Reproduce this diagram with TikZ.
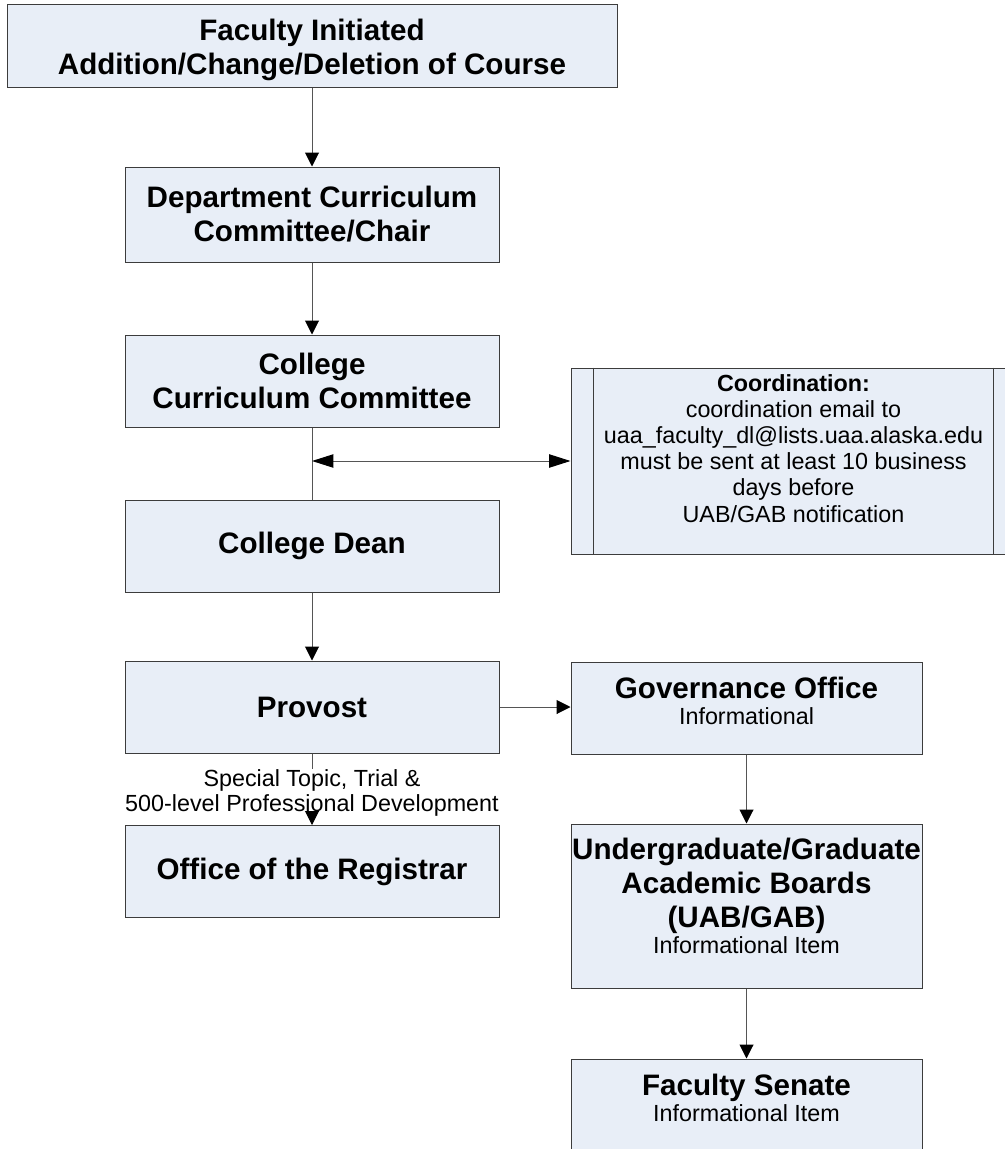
\documentclass[tikz,border=0pt]{standalone}
\usepackage{fontspec}
\setmainfont{Liberation Sans}
\usetikzlibrary{arrows.meta,positioning}
\definecolor{boxfill}{RGB}{232,238,247}
\definecolor{edgegray}{RGB}{60,60,60}
\definecolor{linegray}{RGB}{85,85,85}
\newcommand\bigtxt{\fontsize{22.2}{25.5}\selectfont\bfseries}
\newcommand\smalltxt{\fontsize{17.5}{19.6}\selectfont}

\tikzset{
  box/.style={draw=edgegray,fill=boxfill,line width=0.75pt,align=center,inner xsep=0pt,inner ysep=2pt,
    minimum width=280.5pt,minimum height=69pt,font=\bigtxt},
  note/.style={align=center,inner sep=2pt,font=\smalltxt},
  link/.style={draw=linegray,line width=0.75pt},
  flow/.style={link,-{Triangle[length=10.5pt,width=10.5pt,black]}},
  both/.style={link,{Triangle[length=16pt,width=10pt,black]}-{Triangle[length=16pt,width=10pt,black]}}
}

\begin{document}
\begin{tikzpicture}[x=0.75pt,y=-0.75pt]
    \clip (0,0) rectangle (1005,1149);
    % left column
    \node[box,minimum width=457.5pt,minimum height=62.25pt,text depth=0pt] (init) at (312,46.5)
      {Faculty Initiated\\Addition/Change/Deletion of Course};
    \node[box,minimum height=71.25pt] (dept) at (312,214.5) {Department Curriculum\\Committee/Chair};
    \node[box] (ccc) at (312,381) {College\\Curriculum Committee};
    \node[box] (dean) at (312,546) {College Dean};
    \node[box] (prov) at (312,707) {Provost};
    \node[note,inner sep=0pt,font=\fontsize{17.5}{18.75}\selectfont] (lbl) at (312,793)
      {Special Topic, Trial \&\\500-level Professional Development};
    \node[box] (reg) at (312,871.5) {Office of the Registrar};
    % right column
    \node[box,minimum width=333.75pt,minimum height=139.5pt] (coord) at (793.5,461) {};
    \draw[edgegray,line width=0.75pt] ([xshift=17.25pt]coord.north west)--([xshift=17.25pt]coord.south west);
    \draw[edgegray,line width=0.75pt] ([xshift=-17.25pt]coord.north east)--([xshift=-17.25pt]coord.south east);
    \node[note,anchor=north] (coordtxt) at ([yshift=-3pt]coord.north)
      {\textbf{Coordination:}\\coordination email to\\uaa\_faculty\_dl@lists.uaa.alaska.edu\\
       must be sent at least 10 business\\days before\\UAB/GAB notification};
    \node[box,minimum width=263.25pt,text depth=11pt] (gov) at (746.5,708)
      {Governance Office\\[-6pt]{\smalltxt\mdseries Informational}};
    \node[box,minimum width=263.25pt,minimum height=123pt,text depth=16pt] (uab) at (746.5,906)
      {Undergraduate/Graduate\\Academic Boards\\(UAB/GAB)\\[-6pt]{\smalltxt\mdseries Informational Item}};
    \node[box,minimum width=263.25pt,text depth=11pt] (sen) at (746.5,1105)
      {Faculty Senate\\[-6pt]{\smalltxt\mdseries Informational Item}};
    % connectors
    \draw[flow] (init) -- (dept);
    \draw[flow] (dept) -- (ccc);
    \draw[link] (ccc) -- (dean);
    \coordinate (tap) at (ccc.south |- coord.west);
    \draw[both] (tap) -- (coord.west);
    \draw[flow] (dean) -- (prov);
    \draw[flow] (prov.east) -- (prov.east -| gov.west);
    \draw[link] (prov) -- (lbl);
    \draw[flow] (lbl) -- (reg);
    \draw[flow] (gov) -- (uab);
    \draw[flow] (uab) -- (sen);
\end{tikzpicture}
\end{document}
